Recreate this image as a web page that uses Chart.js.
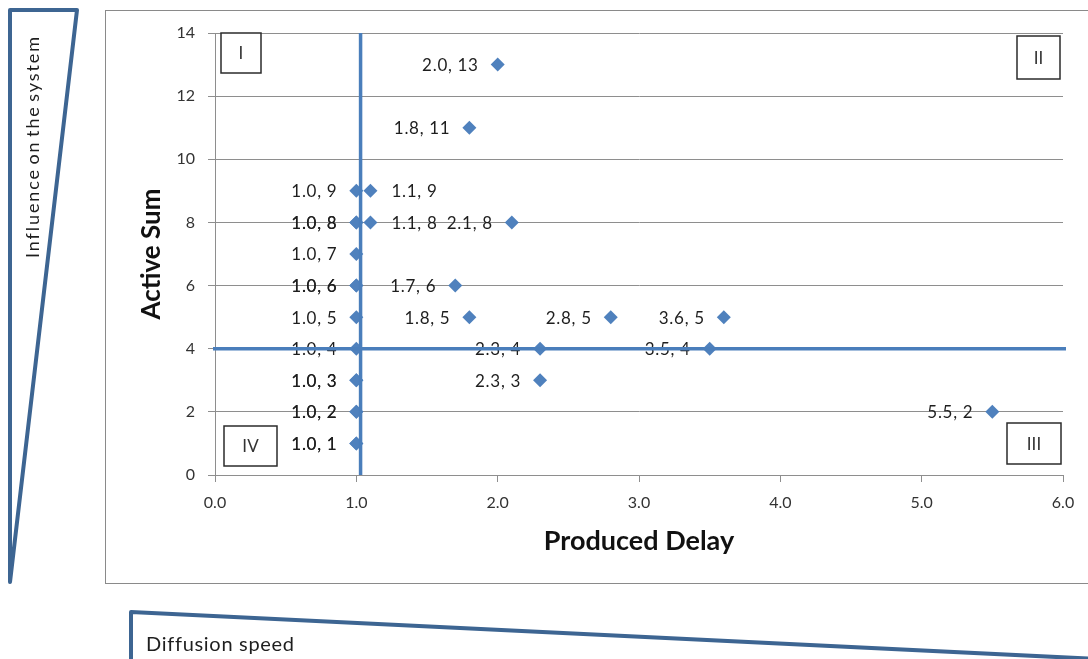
<!DOCTYPE html>
<html>
<head>
<meta charset="utf-8">
<script src="https://cdn.jsdelivr.net/npm/chart.js@4.4.1/dist/chart.umd.min.js"></script>
<style>
  html, body { margin: 0; padding: 0; background: #ffffff; overflow: hidden; }
  canvas { display: block; }
</style>
</head>
<body>
<canvas id="matrix" width="1088" height="659"></canvas>
<script>
// Produced delay (x) and active sum (y) for each element
const producedDelay = [2.0, 1.8, 1.0, 1.1, 1.0, 1.0, 1.1, 2.1, 1.0, 1.0, 1.0, 1.7,
                       1.0, 1.8, 2.8, 3.6, 1.0, 2.3, 3.5, 1.0, 1.0, 2.3, 1.0, 1.0, 5.5, 1.0, 1.0];
const activeSum     = [13, 11, 9, 9, 8, 8, 8, 8, 7, 6, 6, 6,
                       5, 5, 5, 5, 4, 4, 4, 3, 3, 3, 2, 2, 2, 1, 1];

const xTickValues = [0, 1, 2, 3, 4, 5, 6];
const yTickValues = [0, 2, 4, 6, 8, 10, 12, 14];

// Quadrant dividers
const delayThreshold = 1.03;
const sumThreshold = 4;

const quadrantNames = ['I', 'II', 'III', 'IV'];
const xTitle = 'Produced Delay';
const yTitle = 'Active Sum';
const sideLabel = 'Influence on the system';
const bottomLabel = 'Diffusion speed';

// elements whose value label sits to the right of the marker
const labelOnRight = new Set([3, 6]);

const FONT = 'Lato, "Open Sans", sans-serif';
const BLUE = '#4f81bd';
const FRAME_BLUE = '#3d6592';
const GRID = '#8e8e8e';
const TEXT = '#1e1e1e';

const points = producedDelay.map((x, i) => ({ x, y: activeSum[i] }));

const decorations = {
  id: 'decorations',
  beforeDraw(chart) {
    const ctx = chart.ctx;
    ctx.save();
    ctx.fillStyle = '#ffffff';
    ctx.fillRect(0, 0, chart.width, chart.height);

    // chart frame
    ctx.strokeStyle = '#8a8a8a';
    ctx.lineWidth = 1;
    ctx.strokeRect(105.5, 10.5, 1100, 573);

    // side wedge
    ctx.strokeStyle = FRAME_BLUE;
    ctx.lineWidth = 4;
    ctx.lineJoin = 'round';
    ctx.lineCap = 'round';
    ctx.beginPath();
    ctx.moveTo(10, 10);
    ctx.lineTo(77, 10);
    ctx.lineTo(10, 582);
    ctx.closePath();
    ctx.stroke();

    // bottom wedge
    ctx.beginPath();
    ctx.moveTo(131, 670);
    ctx.lineTo(131, 612);
    ctx.lineTo(1200, 664);
    ctx.stroke();

    ctx.fillStyle = TEXT;
    ctx.textBaseline = 'middle';
    ctx.textAlign = 'left';
    ctx.font = '20px ' + FONT;
    ctx.letterSpacing = '0.7px';
    ctx.fillText(bottomLabel, 146, 645);

    ctx.font = '18px ' + FONT;
    ctx.letterSpacing = '1.9px';
    ctx.wordSpacing = '-3px';
    ctx.translate(33, 258);
    ctx.rotate(-Math.PI / 2);
    ctx.fillText(sideLabel, 0, 0);
    ctx.restore();
  },
  afterDatasetsDraw(chart) {
    const ctx = chart.ctx;
    const xs = chart.scales.x, ys = chart.scales.y;
    const area = chart.chartArea;
    const meta = chart.getDatasetMeta(0);
    ctx.save();

    // value labels
    ctx.font = '17px ' + FONT;
    ctx.letterSpacing = '0.7px';
    ctx.fillStyle = TEXT;
    ctx.textBaseline = 'middle';
    meta.data.forEach((el, i) => {
      const p = points[i];
      const txt = p.x.toFixed(1) + ', ' + p.y;
      if (labelOnRight.has(i)) {
        ctx.textAlign = 'left';
        ctx.fillText(txt, el.x + 21, el.y + 1);
      } else {
        ctx.textAlign = 'right';
        ctx.fillText(txt, el.x - 19, el.y + 1);
      }
    });
    ctx.letterSpacing = '0px';

    // quadrant dividers
    ctx.strokeStyle = '#4a7ebb';
    ctx.lineWidth = 3.5;
    ctx.lineCap = 'butt';
    const vx = xs.getPixelForValue(delayThreshold);
    ctx.beginPath();
    ctx.moveTo(vx, ys.getPixelForValue(0));
    ctx.lineTo(vx, ys.getPixelForValue(14));
    ctx.stroke();
    const hy = ys.getPixelForValue(sumThreshold);
    ctx.beginPath();
    ctx.moveTo(xs.getPixelForValue(0) - 2, hy);
    ctx.lineTo(xs.getPixelForValue(6) + 3, hy);
    ctx.stroke();

    // quadrant tags
    const boxes = [
      [area.left + 6, area.top, 40, 40],
      [area.right - 46, area.top + 3, 43, 43],
      [area.right - 56, area.bottom - 52, 54, 41],
      [area.left + 9, area.bottom - 49, 53, 40]
    ];
    ctx.lineWidth = 1.5;
    ctx.strokeStyle = '#2b2b2b';
    ctx.font = '17px ' + FONT;
    ctx.textAlign = 'center';
    boxes.forEach((b, i) => {
      ctx.fillStyle = '#ffffff';
      ctx.fillRect(b[0], b[1], b[2], b[3]);
      ctx.strokeRect(b[0], b[1], b[2], b[3]);
      ctx.fillStyle = '#333333';
      ctx.fillText(quadrantNames[i], b[0] + b[2] / 2, b[1] + b[3] / 2 + 1);
    });
    ctx.restore();
  }
};

new Chart(document.getElementById('matrix'), {
  type: 'scatter',
  data: {
    datasets: [{
      data: points,
      pointStyle: 'rectRot',
      pointRadius: 7,
      pointHoverRadius: 7,
      backgroundColor: BLUE,
      borderColor: BLUE,
      borderWidth: 0
    }]
  },
  options: {
    responsive: false,
    animation: false,
    devicePixelRatio: 1,
    events: [],
    layout: { padding: { left: 105, top: 33, right: 25, bottom: 76 } },
    plugins: { legend: { display: false }, tooltip: { enabled: false } },
    scales: {
      x: {
        type: 'linear',
        min: 0,
        max: 6,
        afterBuildTicks: s => { s.ticks = xTickValues.map(v => ({ value: v })); },
        afterFit: s => { s.height = 108; },
        ticks: {
          callback: v => Number(v).toFixed(1),
          font: { family: FONT, size: 16 },
          color: '#333333',
          padding: 11,
          maxRotation: 0
        },
        grid: { drawOnChartArea: false, color: GRID, tickLength: 7 },
        border: { color: GRID, width: 1 },
        title: {
          display: true,
          text: xTitle,
          font: { family: FONT, size: 27, weight: 'bold' },
          color: '#111111',
          padding: { top: 0, bottom: 26 }
        }
      },
      y: {
        type: 'linear',
        min: 0,
        max: 14,
        afterBuildTicks: s => { s.ticks = yTickValues.map(v => ({ value: v })); },
        afterFit: s => { s.width = 110; },
        ticks: {
          font: { family: FONT, size: 16 },
          color: '#333333',
          padding: 13
        },
        grid: { color: GRID, tickLength: 7 },
        border: { color: GRID, width: 1 },
        title: {
          display: true,
          text: yTitle,
          font: { family: FONT, size: 26, weight: 'bold' },
          color: '#111111',
          padding: { top: 31, bottom: 0 }
        }
      }
    }
  },
  plugins: [decorations]
});
</script>
</body>
</html>
